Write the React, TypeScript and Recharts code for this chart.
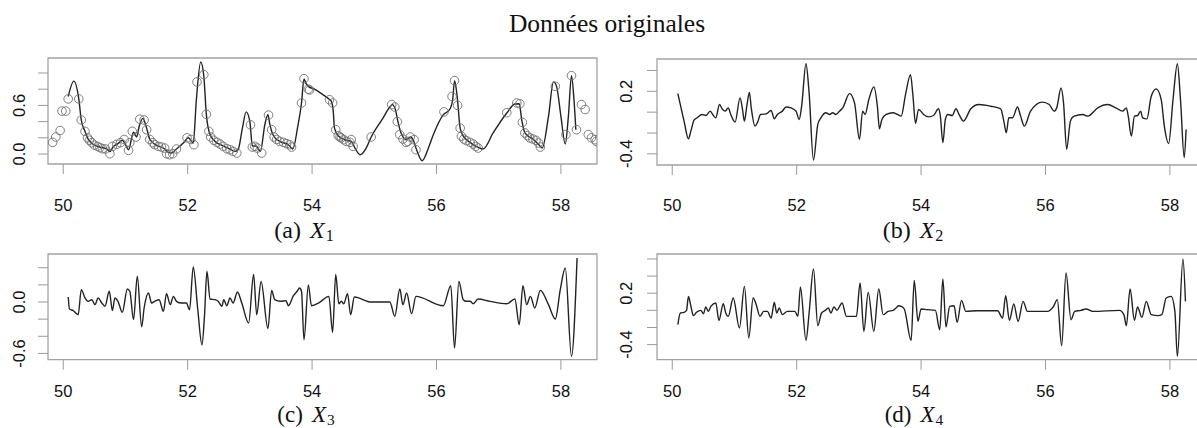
import React from "react";
import { ComposedChart, Line, XAxis, YAxis, ReferenceArea } from "recharts";

const FONT_SANS = "'Liberation Sans', Arial, Helvetica, sans-serif";
const FONT_SERIF = "'Liberation Serif', 'Times New Roman', serif";

const xTicks = [50, 52, 54, 56, 58];
const xDomain: [number, number] = [49.755, 58.58];

// (a) X1 : smoothed curve
const x1Curve: [number, number][] = [
  [50.08, 0.71], [50.17, 0.9], [50.25, 0.68], [50.29, 0.42], [50.35, 0.28], [50.4, 0.185], [50.48, 0.12],
  [50.59, 0.086], [50.7, 0.062], [50.75, 0.03], [50.8, 0.086], [50.88, 0.128], [50.95, 0.17], [51.01, 0.1],
  [51.05, 0.053], [51.1, 0.2], [51.13, 0.27], [51.18, 0.21], [51.22, 0.34], [51.28, 0.44], [51.34, 0.32],
  [51.39, 0.185], [51.5, 0.107], [51.61, 0.074], [51.69, 0.02], [51.74, 0.012], [51.82, 0.062], [51.93, 0.136],
  [52.01, 0.2], [52.09, 0.136], [52.14, 0.67], [52.21, 1.136], [52.26, 0.96], [52.3, 0.49], [52.36, 0.24],
  [52.44, 0.156], [52.55, 0.107], [52.68, 0.062], [52.76, 0.033], [52.81, 0.053], [52.88, 0.32], [52.94, 0.52],
  [53.0, 0.4], [53.04, 0.1], [53.1, 0.1], [53.13, 0.074], [53.17, 0.033], [53.24, 0.36], [53.29, 0.486],
  [53.32, 0.37], [53.38, 0.226], [53.48, 0.156], [53.62, 0.115], [53.69, 0.062], [53.77, 0.34], [53.83, 0.63],
  [53.87, 0.926], [53.9, 0.876], [53.94, 0.835], [54.04, 0.8], [54.18, 0.73], [54.27, 0.68], [54.31, 0.65],
  [54.34, 0.53], [54.36, 0.32], [54.42, 0.226], [54.55, 0.169], [54.63, 0.156], [54.69, 0.074], [54.77, -0.008],
  [54.87, 0.074], [54.95, 0.21], [55.14, 0.444], [55.25, 0.58], [55.29, 0.61], [55.34, 0.547], [55.38, 0.4],
  [55.43, 0.26], [55.52, 0.177], [55.58, 0.21], [55.62, 0.185], [55.68, 0.053], [55.77, -0.082], [55.87, 0.074],
  [55.95, 0.24], [56.11, 0.486], [56.21, 0.547], [56.26, 0.67], [56.29, 0.905], [56.33, 0.73], [56.38, 0.32],
  [56.43, 0.22], [56.54, 0.144], [56.67, 0.082], [56.75, 0.062], [56.91, 0.26], [57.13, 0.506], [57.26, 0.617],
  [57.33, 0.62], [57.37, 0.42], [57.42, 0.26], [57.55, 0.185], [57.66, 0.103], [57.7, 0.074], [57.8, 0.465],
  [57.88, 0.89], [57.93, 0.835], [58.0, 0.465], [58.07, 0.123], [58.12, 0.465], [58.17, 0.967], [58.21, 0.67],
  [58.24, 0.3],
];

// (a) X1 : raw observations (circles)
const x1Obs: [number, number][] = [
  [49.83, 0.144], [49.88, 0.21], [49.95, 0.29], [49.98, 0.53], [50.04, 0.53], [50.08, 0.68], [50.25, 0.68],
  [50.29, 0.42], [50.35, 0.28], [50.39, 0.2], [50.42, 0.17], [50.46, 0.14], [50.5, 0.11], [50.55, 0.095],
  [50.59, 0.08], [50.63, 0.066], [50.68, 0.062], [50.75, 0.004], [50.79, 0.095], [50.86, 0.12], [50.92, 0.14],
  [50.98, 0.18], [51.05, 0.045], [51.07, 0.14], [51.11, 0.28], [51.17, 0.21], [51.23, 0.43], [51.3, 0.42],
  [51.34, 0.3], [51.39, 0.18], [51.44, 0.14], [51.47, 0.115], [51.53, 0.095], [51.58, 0.086], [51.63, 0.074],
  [51.66, 0.004], [51.71, -0.008], [51.76, 0.004], [51.82, 0.062], [51.99, 0.2], [52.05, 0.18], [52.1, 0.115],
  [52.15, 0.89], [52.26, 0.98], [52.3, 0.49], [52.34, 0.28], [52.37, 0.21], [52.42, 0.17], [52.47, 0.144],
  [52.52, 0.123], [52.57, 0.095], [52.63, 0.066], [52.68, 0.053], [52.73, 0.033], [52.79, 0.012], [53.01, 0.36],
  [53.04, 0.086], [53.08, 0.095], [53.12, 0.074], [53.19, 0.012], [53.3, 0.48], [53.35, 0.3], [53.39, 0.21],
  [53.43, 0.18], [53.48, 0.156], [53.54, 0.144], [53.59, 0.128], [53.64, 0.115], [53.67, 0.086], [53.83, 0.63],
  [53.87, 0.93], [53.94, 0.8], [53.96, 0.79], [54.28, 0.67], [54.33, 0.63], [54.38, 0.3], [54.42, 0.226],
  [54.45, 0.21], [54.47, 0.198], [54.51, 0.177], [54.55, 0.156], [54.61, 0.144], [54.63, 0.177], [54.66, 0.095],
  [54.95, 0.21], [55.28, 0.61], [55.33, 0.58], [55.37, 0.4], [55.41, 0.24], [55.46, 0.185], [55.51, 0.144],
  [55.54, 0.156], [55.58, 0.21], [55.64, 0.177], [55.67, 0.053], [56.12, 0.52], [56.25, 0.71], [56.29, 0.905],
  [56.34, 0.6], [56.38, 0.32], [56.4, 0.22], [56.44, 0.185], [56.48, 0.165], [56.54, 0.144], [56.59, 0.123],
  [56.63, 0.095], [56.67, 0.074], [57.13, 0.51], [57.29, 0.63], [57.34, 0.62], [57.38, 0.39], [57.42, 0.26],
  [57.46, 0.226], [57.5, 0.198], [57.55, 0.185], [57.6, 0.169], [57.64, 0.136], [57.67, 0.086], [57.91, 0.835],
  [58.08, 0.24], [58.17, 0.967], [58.25, 0.3], [58.33, 0.61], [58.39, 0.55], [58.44, 0.24], [58.49, 0.2],
  [58.55, 0.177], [58.57, 0.156],
];

// (b) X2
const x2Curve: [number, number][] = [
  [50.09, 0.178], [50.13, 0.073], [50.19, -0.086], [50.26, -0.255], [50.3, -0.18], [50.35, -0.076], [50.4, -0.054],
  [50.48, -0.022], [50.54, -0.032], [50.61, 0.01], [50.65, -0.022], [50.7, -0.054], [50.76, 0.073], [50.81, 0.025],
  [50.85, 0.01], [50.9, 0.041], [50.94, -0.022], [51.01, -0.096], [51.09, 0.137], [51.13, 0.025], [51.16, -0.086],
  [51.2, 0.064], [51.24, 0.19], [51.27, 0.041], [51.33, -0.134], [51.37, -0.1], [51.42, -0.022], [51.51, -0.016],
  [51.59, 0.016], [51.64, -0.064], [51.69, -0.022], [51.77, 0.01], [51.83, 0.05], [51.91, 0.041], [51.99, 0.01],
  [52.04, -0.07], [52.08, 0.057], [52.15, 0.465], [52.2, 0.185], [52.27, -0.459], [52.34, -0.118], [52.39, -0.054],
  [52.47, -0.006], [52.53, -0.022], [52.58, -0.006], [52.63, -0.022], [52.69, 0.01], [52.74, 0.041], [52.85, 0.178],
  [52.93, 0.089], [53.01, -0.261], [53.06, 0.01], [53.1, -0.022], [53.16, 0.121], [53.24, 0.242], [53.3, 0.041],
  [53.33, -0.16], [53.37, -0.07], [53.44, -0.022], [53.55, -0.006], [53.62, -0.022], [53.68, -0.038], [53.75, 0.169],
  [53.83, 0.36], [53.87, 0.153], [53.91, -0.108], [53.96, 0.025], [54.04, -0.022], [54.12, -0.045], [54.2, -0.032],
  [54.28, 0.032], [54.31, -0.038], [54.35, -0.293], [54.39, -0.07], [54.43, -0.022], [54.5, -0.032], [54.56, 0.032],
  [54.61, -0.022], [54.68, -0.086], [54.8, 0.032], [54.93, 0.073], [55.12, 0.057], [55.28, 0.032], [55.33, -0.086],
  [55.37, -0.197], [55.41, -0.054], [55.47, -0.054], [55.55, 0.05], [55.6, -0.038], [55.66, -0.134], [55.76, 0.01],
  [55.95, 0.096], [56.06, 0.073], [56.14, 0.01], [56.18, 0.041], [56.25, 0.232], [56.29, 0.089], [56.34, -0.357],
  [56.4, -0.086], [56.46, -0.038], [56.6, -0.022], [56.68, -0.038], [56.84, 0.041], [57.0, 0.073], [57.13, 0.041],
  [57.24, 0.01], [57.3, 0.041], [57.33, -0.038], [57.38, -0.229], [57.43, -0.038], [57.48, -0.032], [57.53, 0.01],
  [57.56, -0.054], [57.63, -0.064], [57.7, 0.153], [57.78, 0.223], [57.86, 0.121], [57.91, -0.134], [57.98, -0.3],
  [58.05, 0.121], [58.12, 0.465], [58.17, 0.121], [58.23, -0.436], [58.26, -0.166],
];

// (c) X3
const x3Curve: [number, number][] = [
  [50.08, 0.058], [50.1, -0.082], [50.16, -0.1], [50.24, -0.148], [50.29, 0.144], [50.35, 0.047], [50.4, 0.008],
  [50.46, 0.027], [50.51, -0.031], [50.56, 0.047], [50.62, -0.012], [50.67, -0.05], [50.74, 0.125], [50.79, -0.1],
  [50.83, 0.047], [50.88, 0.008], [50.95, -0.12], [51.03, 0.152], [51.07, 0.125], [51.13, -0.206], [51.19, 0.3],
  [51.26, -0.29], [51.3, -0.07], [51.37, 0.105], [51.42, -0.012], [51.47, 0.008], [51.54, 0.027], [51.61, -0.109],
  [51.66, 0.097], [51.72, -0.031], [51.77, 0.066], [51.82, 0.008], [51.9, -0.012], [51.98, -0.012], [52.03, -0.09],
  [52.09, 0.41], [52.16, -0.07], [52.23, -0.5], [52.27, -0.167], [52.31, 0.358], [52.36, 0.035], [52.44, 0.027],
  [52.49, 0.008], [52.55, -0.05], [52.58, 0.027], [52.63, -0.043], [52.68, 0.047], [52.73, -0.012], [52.8, 0.117],
  [52.87, -0.012], [52.98, -0.245], [53.06, 0.32], [53.11, -0.148], [53.18, 0.24], [53.29, -0.31], [53.35, 0.136],
  [53.4, 0.027], [53.49, 0.008], [53.58, 0.016], [53.62, -0.043], [53.7, 0.074], [53.76, 0.125], [53.8, 0.163],
  [53.83, 0.125], [53.87, -0.44], [53.94, 0.2], [53.99, -0.043], [54.12, -0.004], [54.27, 0.066], [54.33, -0.354],
  [54.38, 0.32], [54.43, -0.02], [54.47, 0.008], [54.51, -0.02], [54.57, 0.097], [54.62, -0.148], [54.68, 0.058],
  [54.95, 0.0], [55.25, 0.0], [55.33, -0.167], [55.41, 0.152], [55.46, -0.031], [55.52, 0.105], [55.6, -0.136],
  [55.67, 0.066], [56.11, -0.043], [56.23, 0.19], [56.29, -0.537], [56.36, 0.24], [56.43, 0.027], [56.48, 0.008],
  [56.54, 0.008], [56.59, -0.02], [56.67, 0.035], [56.86, 0.008], [57.13, -0.02], [57.26, 0.035], [57.33, -0.265],
  [57.39, 0.19], [57.45, -0.031], [57.51, 0.066], [57.58, -0.07], [57.67, 0.136], [57.8, -0.031], [57.91, -0.198],
  [57.99, 0.144], [58.07, 0.397], [58.17, -0.634], [58.26, 0.514],
];

// (d) X4
const x4Curve: [number, number][] = [
  [50.09, -0.167], [50.13, -0.031], [50.19, -0.023], [50.23, 0.0], [50.26, 0.163], [50.3, 0.047], [50.34, -0.062],
  [50.39, -0.023], [50.46, 0.0], [50.5, -0.039], [50.54, 0.039], [50.58, -0.012], [50.62, 0.047], [50.7, 0.086],
  [50.75, -0.117], [50.82, 0.078], [50.86, -0.031], [50.9, -0.07], [50.98, 0.144], [51.08, -0.206], [51.16, 0.28],
  [51.23, -0.323], [51.3, 0.144], [51.35, 0.066], [51.41, -0.07], [51.47, -0.012], [51.53, -0.012], [51.59, -0.089],
  [51.64, 0.093], [51.68, -0.031], [51.72, 0.027], [51.77, -0.05], [51.85, -0.012], [51.97, -0.012], [52.02, -0.07],
  [52.06, 0.272], [52.15, -0.35], [52.2, -0.031], [52.27, 0.482], [52.34, -0.179], [52.4, -0.031], [52.46, 0.0],
  [52.51, 0.027], [52.55, -0.031], [52.6, 0.039], [52.65, 0.0], [52.69, 0.047], [52.73, 0.086], [52.8, -0.07],
  [52.88, -0.07], [52.96, -0.07], [53.02, 0.32], [53.08, -0.245], [53.15, 0.21], [53.24, -0.245], [53.32, 0.25],
  [53.39, -0.05], [53.47, -0.012], [53.55, 0.0], [53.6, 0.03], [53.64, 0.054], [53.68, 0.047], [53.73, 0.016],
  [53.84, -0.35], [53.89, 0.35], [53.95, -0.128], [54.0, 0.016], [54.1, 0.008], [54.23, 0.0], [54.3, -0.226],
  [54.35, 0.366], [54.4, -0.195], [54.46, 0.047], [54.53, 0.054], [54.58, -0.14], [54.65, 0.117], [54.72, -0.012],
  [54.9, -0.004], [55.23, -0.004], [55.31, -0.089], [55.36, 0.171], [55.42, -0.117], [55.49, 0.074], [55.56, -0.128],
  [55.64, 0.105], [55.71, -0.012], [56.03, -0.012], [56.13, 0.047], [56.19, 0.125], [56.26, -0.412], [56.33, 0.436],
  [56.41, -0.109], [56.47, -0.012], [56.57, 0.0], [56.65, 0.016], [56.76, -0.012], [57.19, 0.0], [57.26, -0.05],
  [57.3, -0.179], [57.36, 0.25], [57.43, -0.117], [57.48, 0.039], [57.55, -0.082], [57.62, 0.105], [57.7, -0.05],
  [57.81, -0.062], [57.87, -0.05], [57.94, 0.144], [58.02, 0.163], [58.08, -0.012], [58.12, -0.537], [58.21, 0.6],
  [58.25, 0.105],
];

const toRows = (pts: [number, number][]) => pts.map(([x, y]) => ({ x, y }));

type PanelProps = {
  boxLeft: number;
  boxTop: number;
  plotH: number;
  curve: [number, number][];
  obs?: [number, number][];
  yDomain: [number, number];
  yTicks: number[];
  yLabelVals: number[];
  yLabelTexts: string[];
  labelX: number;
  xLabelGap: number;
};

const PLOT_W = 549;
const Y_AXIS_W = 48;

function Panel({
  boxLeft,
  boxTop,
  plotH,
  curve,
  obs,
  yDomain,
  yTicks,
  yLabelVals,
  yLabelTexts,
  labelX,
  xLabelGap,
}: PanelProps) {
  const W = Y_AXIS_W + PLOT_W + 12;
  const H = 10 + plotH + 60;

  const renderYTick = (props: any) => {
    const { y, payload } = props;
    const i = yLabelVals.findIndex((v) => Math.abs(v - payload.value) < 1e-6);
    if (i < 0) return <g />;
    return (
      <text
        x={0}
        y={0}
        transform={`translate(${labelX},${y}) rotate(-90)`}
        textAnchor="middle"
        dy="0.36em"
        fontSize={16.5}
        fontFamily={FONT_SANS}
        fill="#111"
      >
        {yLabelTexts[i]}
      </text>
    );
  };

  return (
    <div style={{ position: "absolute", left: boxLeft - Y_AXIS_W, top: boxTop - 10, width: W, height: H }}>
      <ComposedChart width={W} height={H} margin={{ top: 10, right: 12, bottom: 0, left: 0 }}>
        <XAxis
          type="number"
          dataKey="x"
          domain={xDomain}
          ticks={xTicks}
          interval={0}
          allowDataOverflow
          axisLine={false}
          tickLine={{ stroke: "#9a9a9a" }}
          tickSize={10}
          tickMargin={xLabelGap}
          height={60}
          tick={{ fill: "#111", fontSize: 16.5, fontFamily: FONT_SANS }}
        />
        <YAxis
          type="number"
          domain={yDomain}
          ticks={yTicks}
          interval={0}
          allowDataOverflow
          axisLine={false}
          tickLine={{ stroke: "#9a9a9a" }}
          tickSize={10}
          width={Y_AXIS_W}
          tick={renderYTick}
        />
        <ReferenceArea
          x1={xDomain[0]}
          x2={xDomain[1]}
          y1={yDomain[0]}
          y2={yDomain[1]}
          fill="none"
          stroke="#a3a3a3"
          strokeWidth={1.3}
          ifOverflow="visible"
        />
        {obs && (
          <Line
            data={toRows(obs)}
            dataKey="y"
            stroke="none"
            isAnimationActive={false}
            activeDot={false}
            dot={{ r: 4.3, stroke: "#707070", strokeWidth: 0.9, fill: "none" }}
          />
        )}
        <Line
          data={toRows(curve)}
          dataKey="y"
          type="monotone"
          stroke="#222"
          strokeWidth={1.4}
          dot={false}
          activeDot={false}
          isAnimationActive={false}
        />
      </ComposedChart>
    </div>
  );
}

function Caption({ x, y, letter, idx, size }: { x: number; y: number; letter: string; idx: string; size: number }) {
  return (
    <text x={x} y={y} textAnchor="middle" fontFamily={FONT_SERIF} fontSize={size} fill="#111">
      ({letter})
      <tspan dx={9} fontStyle="italic">X</tspan>
      <tspan dx={1} dy={3} fontSize={size * 0.67}>{idx}</tspan>
    </text>
  );
}

export default function App() {
  return (
    <div
      style={{
        position: "absolute",
        left: 0,
        top: 0,
        width: 1197,
        height: 428,
        overflow: "hidden",
        background: "#fff",
      }}
    >
      <Panel
        boxLeft={48}
        boxTop={58.3}
        plotH={106}
        curve={x1Curve}
        obs={x1Obs}
        yDomain={[-0.123, 1.185]}
        yTicks={[0, 0.2, 0.4, 0.6, 0.8, 1.0]}
        yLabelVals={[0, 0.6]}
        yLabelTexts={["0.0", "0.6"]}
        labelX={19}
        xLabelGap={25}
      />
      <Panel
        boxLeft={657}
        boxTop={59.3}
        plotH={106}
        curve={x2Curve}
        yDomain={[-0.507, 0.51]}
        yTicks={[-0.4, -0.2, 0, 0.2, 0.4]}
        yLabelVals={[0.2, -0.4]}
        yLabelTexts={["0.2", "-0.4"]}
        labelX={17}
        xLabelGap={24}
      />
      <Panel
        boxLeft={48}
        boxTop={254.3}
        plotH={105.7}
        curve={x3Curve}
        yDomain={[-0.673, 0.56]}
        yTicks={[-0.6, -0.4, -0.2, 0, 0.2, 0.4]}
        yLabelVals={[0, -0.6]}
        yLabelTexts={["0.0", "-0.6"]}
        labelX={19}
        xLabelGap={16}
      />
      <Panel
        boxLeft={657}
        boxTop={254.3}
        plotH={105.7}
        curve={x4Curve}
        yDomain={[-0.576, 0.658]}
        yTicks={[-0.4, -0.2, 0, 0.2, 0.4, 0.6]}
        yLabelVals={[0.2, -0.4]}
        yLabelTexts={["0.2", "-0.4"]}
        labelX={17}
        xLabelGap={16}
      />
      <svg
        width={1197}
        height={428}
        style={{ position: "absolute", left: 0, top: 0, pointerEvents: "none" }}
      >
        <text x={607} y={31.5} textAnchor="middle" fontFamily={FONT_SERIF} fontSize={25.5} fill="#111">
          Données originales
        </text>
        <Caption x={304} y={238} letter="a" idx="1" size={24} />
        <Caption x={913} y={238} letter="b" idx="2" size={24} />
        <Caption x={306} y={422} letter="c" idx="3" size={23} />
        <Caption x={914} y={422} letter="d" idx="4" size={23} />
      </svg>
    </div>
  );
}
